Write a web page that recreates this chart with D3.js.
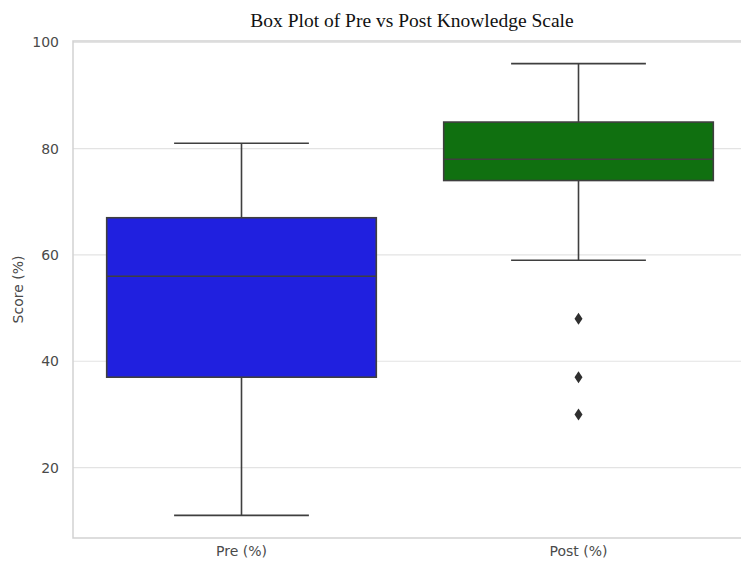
<!DOCTYPE html>
<html>
<head>
<meta charset="utf-8">
<script src="https://cdn.jsdelivr.net/npm/d3@7"></script>
<style>
  body { margin: 0; background: #fff; }
  svg { display: block; }
</style>
</head>
<body>
<script>
'use strict';

// box statistics
var groups = ['Pre (%)', 'Post (%)'];
var whiskerLow = [11, 59];
var q1 = [37, 74];
var median = [56, 78];
var q3 = [67, 85];
var whiskerHigh = [81, 96];
var outliers = [[], [48, 37, 30]];
var fills = ['#2020df', '#107010'];
var yTicks = [20, 40, 60, 80, 100];

var width = 741, height = 565;
var margin = { left: 73, top: 41, right: -6, bottom: 27 };
var innerWidth = width - margin.left - margin.right;
var innerHeight = height - margin.top - margin.bottom;

var svg = d3.select('body').append('svg')
  .attr('width', width)
  .attr('height', height);

var chart = svg.append('g')
  .attr('transform', 'translate(' + margin.left + ',' + margin.top + ')');

var x = d3.scaleBand()
  .domain(groups)
  .range([0, innerWidth]);

var y = d3.scaleLinear()
  .domain([6.75, 100.25])
  .range([innerHeight, 0]);

// grid
chart.selectAll('line.grid')
  .data(yTicks)
  .enter()
  .append('line')
  .attr('class', 'grid')
  .attr('x1', 0)
  .attr('x2', innerWidth)
  .attr('y1', function(d) { return y(d); })
  .attr('y2', function(d) { return y(d); })
  .attr('stroke', '#e3e3e3')
  .attr('stroke-width', 1.2);

// frame
chart.append('rect')
  .attr('x', 0)
  .attr('y', 0)
  .attr('width', innerWidth)
  .attr('height', innerHeight)
  .attr('fill', 'none')
  .attr('stroke', '#d2d2d2')
  .attr('stroke-width', 1.5);

// axes
var yAxis = d3.axisLeft(y).tickValues(yTicks).tickSize(0).tickPadding(14);
chart.append('g').call(yAxis)
  .call(function(g) { g.select('.domain').remove(); })
  .selectAll('text')
  .attr('font-family', 'DejaVu Sans, sans-serif')
  .attr('font-size', 14)
  .attr('fill', '#4a4a4a');

var xAxis = d3.axisBottom(x).tickSize(0).tickPadding(8);
chart.append('g')
  .attr('transform', 'translate(0,' + innerHeight + ')')
  .call(xAxis)
  .call(function(g) { g.select('.domain').remove(); })
  .selectAll('text')
  .attr('font-family', 'DejaVu Sans, sans-serif')
  .attr('font-size', 14)
  .attr('fill', '#4a4a4a');

// boxes
var boxW = x.bandwidth() * 0.8;
var capW = boxW / 2;
var lineColor = '#3f3f3f';

var box = chart.selectAll('g.box')
  .data(groups)
  .enter()
  .append('g')
  .attr('class', 'box')
  .attr('transform', function(d) {
    return 'translate(' + (x(d) + x.bandwidth() / 2) + ',0)';
  });

box.append('line')
  .attr('x1', 0).attr('x2', 0)
  .attr('y1', function(d, i) { return y(whiskerLow[i]); })
  .attr('y2', function(d, i) { return y(q1[i]); })
  .attr('stroke', lineColor).attr('stroke-width', 1.6);

box.append('line')
  .attr('x1', 0).attr('x2', 0)
  .attr('y1', function(d, i) { return y(q3[i]); })
  .attr('y2', function(d, i) { return y(whiskerHigh[i]); })
  .attr('stroke', lineColor).attr('stroke-width', 1.6);

box.append('rect')
  .attr('x', -boxW / 2)
  .attr('width', boxW)
  .attr('y', function(d, i) { return y(q3[i]); })
  .attr('height', function(d, i) { return y(q1[i]) - y(q3[i]); })
  .attr('fill', function(d, i) { return fills[i]; })
  .attr('stroke', lineColor)
  .attr('stroke-width', 1.6);

box.append('line')
  .attr('x1', -boxW / 2).attr('x2', boxW / 2)
  .attr('y1', function(d, i) { return y(median[i]); })
  .attr('y2', function(d, i) { return y(median[i]); })
  .attr('stroke', lineColor).attr('stroke-width', 1.6);

[whiskerLow, whiskerHigh].forEach(function(arr) {
  box.append('line')
    .attr('x1', -capW / 2).attr('x2', capW / 2)
    .attr('y1', function(d, i) { return y(arr[i]); })
    .attr('y2', function(d, i) { return y(arr[i]); })
    .attr('stroke', lineColor).attr('stroke-width', 1.6);
});

box.selectAll('path.flier')
  .data(function(d, i) { return outliers[i]; })
  .enter()
  .append('path')
  .attr('class', 'flier')
  .attr('d', 'M0,-6L4,0L0,6L-4,0Z')
  .attr('transform', function(v) { return 'translate(0,' + y(v) + ')'; })
  .attr('fill', '#2f2f2f');

// labels
svg.append('text')
  .attr('x', 412)
  .attr('y', 27)
  .attr('text-anchor', 'middle')
  .attr('font-family', 'Liberation Serif, Times New Roman, serif')
  .attr('font-size', 19.5)
  .attr('fill', '#111')
  .text('Box Plot of Pre vs Post Knowledge Scale');

svg.append('text')
  .attr('transform', 'translate(23,' + (margin.top + innerHeight / 2) + ') rotate(-90)')
  .attr('text-anchor', 'middle')
  .attr('font-family', 'DejaVu Sans, sans-serif')
  .attr('font-size', 14)
  .attr('fill', '#4a4a4a')
  .text('Score (%)');
</script>
</body>
</html>
